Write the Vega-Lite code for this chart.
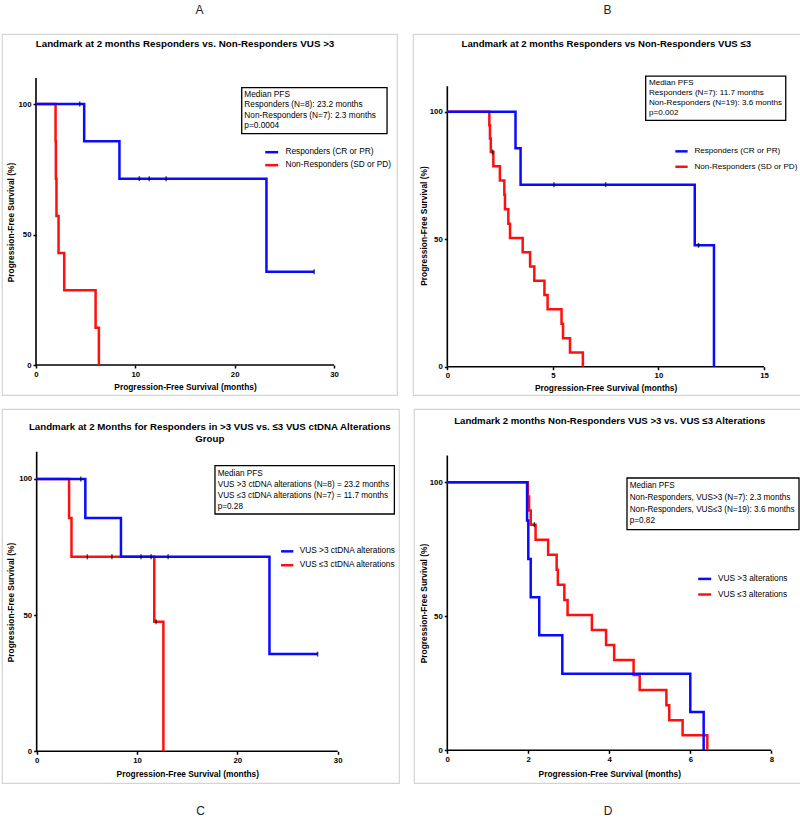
{
"$schema": "https://vega.github.io/schema/vega-lite/v6.json",
"padding": {"left": 1, "top": 3, "right": 0, "bottom": 0},
"config": {
  "font": "Liberation Sans",
  "view": {"stroke": "#d4d4d4", "strokeWidth": 1.2},
  "axis": {"domain": false, "grid": false, "tickSize": 3, "tickWidth": 1.5, "tickColor": "black", "labelFontSize": 7.8, "labelFontWeight": "bold", "labelColor": "black", "labelPadding": 2, "labelFlush": false, "labelOverlap": false, "titleFontSize": 8.4, "titleFontWeight": "bold", "titleColor": "black", "titleBaseline": "middle", "titlePadding": 0},
  "legend": {"symbolType": "stroke", "symbolStrokeWidth": 2.5, "labelFontSize": 8.3, "labelColor": "black", "padding": 0, "labelLimit": 400, "title": null},
  "title": {"fontSize": 12, "fontWeight": "normal", "color": "#222"}
},
"datasets": {
  "A": [
    {"g": "Non-Responders (SD or PD)", "t": 0, "s": 100, "c": 0},
    {"g": "Non-Responders (SD or PD)", "t": 1.97, "s": 85.7, "c": 0},
    {"g": "Non-Responders (SD or PD)", "t": 2.0, "s": 71.4, "c": 0},
    {"g": "Non-Responders (SD or PD)", "t": 2.06, "s": 57.1, "c": 0},
    {"g": "Non-Responders (SD or PD)", "t": 2.27, "s": 42.9, "c": 0},
    {"g": "Non-Responders (SD or PD)", "t": 2.84, "s": 28.6, "c": 0},
    {"g": "Non-Responders (SD or PD)", "t": 6.0, "s": 14.3, "c": 0},
    {"g": "Non-Responders (SD or PD)", "t": 6.33, "s": 0, "c": 0},
    {"g": "Responders (CR or PR)", "t": 0, "s": 100, "c": 0},
    {"g": "Responders (CR or PR)", "t": 4.4, "s": 100, "c": 1},
    {"g": "Responders (CR or PR)", "t": 4.85, "s": 85.7, "c": 0},
    {"g": "Responders (CR or PR)", "t": 8.4, "s": 71.4, "c": 0},
    {"g": "Responders (CR or PR)", "t": 10.4, "s": 71.4, "c": 1},
    {"g": "Responders (CR or PR)", "t": 11.4, "s": 71.4, "c": 1},
    {"g": "Responders (CR or PR)", "t": 13.1, "s": 71.4, "c": 1},
    {"g": "Responders (CR or PR)", "t": 23.2, "s": 35.7, "c": 0},
    {"g": "Responders (CR or PR)", "t": 28.0, "s": 35.7, "c": 1}
  ],
  "B": [
    {"g": "Non-Responders (SD or PD)", "t": 0, "s": 100, "c": 0},
    {"g": "Non-Responders (SD or PD)", "t": 1.99, "s": 94.7, "c": 0},
    {"g": "Non-Responders (SD or PD)", "t": 2.02, "s": 89.5, "c": 0},
    {"g": "Non-Responders (SD or PD)", "t": 2.06, "s": 84.2, "c": 0},
    {"g": "Non-Responders (SD or PD)", "t": 2.15, "s": 84.2, "c": 1},
    {"g": "Non-Responders (SD or PD)", "t": 2.18, "s": 78.6, "c": 0},
    {"g": "Non-Responders (SD or PD)", "t": 2.49, "s": 73.0, "c": 0},
    {"g": "Non-Responders (SD or PD)", "t": 2.70, "s": 67.4, "c": 0},
    {"g": "Non-Responders (SD or PD)", "t": 2.73, "s": 61.8, "c": 0},
    {"g": "Non-Responders (SD or PD)", "t": 2.89, "s": 56.1, "c": 0},
    {"g": "Non-Responders (SD or PD)", "t": 2.97, "s": 50.5, "c": 0},
    {"g": "Non-Responders (SD or PD)", "t": 3.57, "s": 44.9, "c": 0},
    {"g": "Non-Responders (SD or PD)", "t": 3.92, "s": 39.3, "c": 0},
    {"g": "Non-Responders (SD or PD)", "t": 4.12, "s": 33.7, "c": 0},
    {"g": "Non-Responders (SD or PD)", "t": 4.60, "s": 28.1, "c": 0},
    {"g": "Non-Responders (SD or PD)", "t": 4.75, "s": 22.5, "c": 0},
    {"g": "Non-Responders (SD or PD)", "t": 5.41, "s": 16.8, "c": 0},
    {"g": "Non-Responders (SD or PD)", "t": 5.48, "s": 11.2, "c": 0},
    {"g": "Non-Responders (SD or PD)", "t": 5.81, "s": 5.6, "c": 0},
    {"g": "Non-Responders (SD or PD)", "t": 6.42, "s": 0, "c": 0},
    {"g": "Responders (CR or PR)", "t": 0, "s": 100, "c": 0},
    {"g": "Responders (CR or PR)", "t": 3.23, "s": 85.7, "c": 0},
    {"g": "Responders (CR or PR)", "t": 3.47, "s": 71.4, "c": 0},
    {"g": "Responders (CR or PR)", "t": 5.05, "s": 71.4, "c": 1},
    {"g": "Responders (CR or PR)", "t": 7.5, "s": 71.4, "c": 1},
    {"g": "Responders (CR or PR)", "t": 11.72, "s": 47.6, "c": 0},
    {"g": "Responders (CR or PR)", "t": 11.9, "s": 47.6, "c": 1},
    {"g": "Responders (CR or PR)", "t": 12.63, "s": 0, "c": 0}
  ],
  "C": [
    {"g": "VUS ≤3 ctDNA alterations", "t": 0, "s": 100, "c": 0},
    {"g": "VUS ≤3 ctDNA alterations", "t": 3.23, "s": 85.7, "c": 0},
    {"g": "VUS ≤3 ctDNA alterations", "t": 3.47, "s": 71.4, "c": 0},
    {"g": "VUS ≤3 ctDNA alterations", "t": 5.05, "s": 71.4, "c": 1},
    {"g": "VUS ≤3 ctDNA alterations", "t": 7.5, "s": 71.4, "c": 1},
    {"g": "VUS ≤3 ctDNA alterations", "t": 11.72, "s": 47.6, "c": 0},
    {"g": "VUS ≤3 ctDNA alterations", "t": 11.9, "s": 47.6, "c": 1},
    {"g": "VUS ≤3 ctDNA alterations", "t": 12.63, "s": 0, "c": 0},
    {"g": "VUS >3 ctDNA alterations", "t": 0, "s": 100, "c": 0},
    {"g": "VUS >3 ctDNA alterations", "t": 4.4, "s": 100, "c": 1},
    {"g": "VUS >3 ctDNA alterations", "t": 4.85, "s": 85.7, "c": 0},
    {"g": "VUS >3 ctDNA alterations", "t": 8.4, "s": 71.4, "c": 0},
    {"g": "VUS >3 ctDNA alterations", "t": 10.4, "s": 71.4, "c": 1},
    {"g": "VUS >3 ctDNA alterations", "t": 11.4, "s": 71.4, "c": 1},
    {"g": "VUS >3 ctDNA alterations", "t": 13.1, "s": 71.4, "c": 1},
    {"g": "VUS >3 ctDNA alterations", "t": 23.2, "s": 35.7, "c": 0},
    {"g": "VUS >3 ctDNA alterations", "t": 28.0, "s": 35.7, "c": 1}
  ],
  "D": [
    {"g": "VUS ≤3 alterations", "t": 0, "s": 100, "c": 0},
    {"g": "VUS ≤3 alterations", "t": 1.99, "s": 94.7, "c": 0},
    {"g": "VUS ≤3 alterations", "t": 2.02, "s": 89.5, "c": 0},
    {"g": "VUS ≤3 alterations", "t": 2.06, "s": 84.2, "c": 0},
    {"g": "VUS ≤3 alterations", "t": 2.15, "s": 84.2, "c": 1},
    {"g": "VUS ≤3 alterations", "t": 2.18, "s": 78.6, "c": 0},
    {"g": "VUS ≤3 alterations", "t": 2.49, "s": 73.0, "c": 0},
    {"g": "VUS ≤3 alterations", "t": 2.70, "s": 67.4, "c": 0},
    {"g": "VUS ≤3 alterations", "t": 2.73, "s": 61.8, "c": 0},
    {"g": "VUS ≤3 alterations", "t": 2.89, "s": 56.1, "c": 0},
    {"g": "VUS ≤3 alterations", "t": 2.97, "s": 50.5, "c": 0},
    {"g": "VUS ≤3 alterations", "t": 3.57, "s": 44.9, "c": 0},
    {"g": "VUS ≤3 alterations", "t": 3.92, "s": 39.3, "c": 0},
    {"g": "VUS ≤3 alterations", "t": 4.12, "s": 33.7, "c": 0},
    {"g": "VUS ≤3 alterations", "t": 4.60, "s": 28.1, "c": 0},
    {"g": "VUS ≤3 alterations", "t": 4.75, "s": 22.5, "c": 0},
    {"g": "VUS ≤3 alterations", "t": 5.41, "s": 16.8, "c": 0},
    {"g": "VUS ≤3 alterations", "t": 5.48, "s": 11.2, "c": 0},
    {"g": "VUS ≤3 alterations", "t": 5.81, "s": 5.6, "c": 0},
    {"g": "VUS ≤3 alterations", "t": 6.42, "s": 0, "c": 0},
    {"g": "VUS >3 alterations", "t": 0, "s": 100, "c": 0},
    {"g": "VUS >3 alterations", "t": 1.97, "s": 85.7, "c": 0},
    {"g": "VUS >3 alterations", "t": 2.0, "s": 71.4, "c": 0},
    {"g": "VUS >3 alterations", "t": 2.06, "s": 57.1, "c": 0},
    {"g": "VUS >3 alterations", "t": 2.27, "s": 42.9, "c": 0},
    {"g": "VUS >3 alterations", "t": 2.84, "s": 28.6, "c": 0},
    {"g": "VUS >3 alterations", "t": 6.0, "s": 14.3, "c": 0},
    {"g": "VUS >3 alterations", "t": 6.33, "s": 0, "c": 0}
  ]
},
"resolve": {"scale": {"color": "independent"}, "legend": {"color": "independent"}},
"vconcat": [
 {"hconcat": [
  {
   "width": 395, "height": 361,
   "title": {"text": "A", "offset": 17},
   "data": {"name": "A"},
   "resolve": {"axis": {"x": "independent", "y": "independent"}},
   "layer": [
    {"data": {"values": [{}]}, "mark": {"type": "rule", "color": "black", "strokeWidth": 1.6},
     "encoding": {"x": {"datum": 0, "type": "quantitative", "scale": {"domain": [-3.423, 36.342], "nice": false, "zero": false}, "axis": null},
                  "y": {"datum": 0, "type": "quantitative", "scale": {"domain": [-11.494, 126.82], "nice": false, "zero": false}, "axis": null},
                  "y2": {"datum": 110}}},
    {"data": {"values": [{}]}, "mark": {"type": "rule", "color": "black", "strokeWidth": 1.6},
     "encoding": {"x": {"datum": 0, "type": "quantitative", "scale": {"domain": [-3.423, 36.342], "nice": false, "zero": false}, "axis": null},
                  "x2": {"datum": 30},
                  "y": {"datum": 0, "type": "quantitative", "scale": {"domain": [-11.494, 126.82], "nice": false, "zero": false}, "axis": null}}},
    {"mark": {"type": "line", "interpolate": "step-after", "strokeWidth": 2.5},
     "encoding": {
      "x": {"field": "t", "type": "quantitative", "scale": {"domain": [-3.423, 36.342], "nice": false, "zero": false},
            "axis": {"orient": "bottom", "offset": -30, "values": [0, 10, 20, 30], "format": "d", "title": "Progression-Free Survival (months)", "titleX": 183, "titleY": 21.7}},
      "y": {"field": "s", "type": "quantitative", "scale": {"domain": [-11.494, 126.82], "nice": false, "zero": false},
            "axis": {"orient": "left", "offset": -34, "values": [0, 50, 100], "format": "d", "title": "Progression-Free Survival (%)", "titleX": -25.7, "titleY": 188}},
      "color": {"field": "g", "type": "nominal", "scale": {"domain": ["Responders (CR or PR)", "Non-Responders (SD or PD)"], "range": ["#0a0aff", "#ff1010"]},
                "legend": {"orient": "none", "legendX": 261.7, "legendY": 110.2, "rowPadding": -0.9, "symbolSize": 169, "labelOffset": 5.7}}
     }},
    {"transform": [{"filter": "datum.c == 1"}],
     "mark": {"type": "tick", "orient": "vertical", "size": 5, "thickness": 1.5, "color": "black"},
     "encoding": {
      "x": {"field": "t", "type": "quantitative", "scale": {"domain": [-3.423, 36.342], "nice": false, "zero": false},
            "axis": {"orient": "top", "offset": 0, "labels": false, "ticks": false, "title": "Landmark at 2 months Responders vs. Non-Responders VUS >3", "titleFontSize": 9.8, "titleX": 182.5, "titleY": 9.7}},
      "y": {"field": "s", "type": "quantitative", "scale": {"domain": [-11.494, 126.82], "nice": false, "zero": false}, "axis": null}
     }},
    {"data": {"values": [{}]}, "mark": {"type": "rect", "fill": "white", "stroke": "black", "strokeWidth": 1.3},
     "encoding": {"x": {"datum": 20.71, "type": "quantitative", "scale": {"domain": [-3.423, 36.342], "nice": false, "zero": false}, "axis": null}, "x2": {"datum": 35.34},
                  "y": {"datum": 106.25, "type": "quantitative", "scale": {"domain": [-11.494, 126.82], "nice": false, "zero": false}, "axis": null}, "y2": {"datum": 88.62}}},
    {"data": {"values": [{}]}, "mark": {"type": "text", "align": "left", "baseline": "middle", "fontSize": 8.3, "lineHeight": 10.4, "color": "black",
       "text": ["Median PFS", "Responders (N=8): 23.2 months", "Non-Responders (N=7): 2.3 months", "p=0.0004"]},
     "encoding": {"x": {"datum": 20.97, "type": "quantitative", "scale": {"domain": [-3.423, 36.342], "nice": false, "zero": false}, "axis": null},
                  "y": {"datum": 103.45, "type": "quantitative", "scale": {"domain": [-11.494, 126.82], "nice": false, "zero": false}, "axis": null}}}
   ]
  },
  {
   "width": 389, "height": 361,
   "title": {"text": "B", "offset": 17},
   "data": {"name": "B"},
   "resolve": {"axis": {"x": "independent", "y": "independent"}},
   "layer": [
    {"data": {"values": [{}]}, "mark": {"type": "rule", "color": "black", "strokeWidth": 1.6},
     "encoding": {"x": {"datum": 0, "type": "quantitative", "scale": {"domain": [-1.626, 16.80], "nice": false, "zero": false}, "axis": null},
                  "y": {"datum": 0, "type": "quantitative", "scale": {"domain": [-11.1, 130.5], "nice": false, "zero": false}, "axis": null},
                  "y2": {"datum": 110}}},
    {"data": {"values": [{}]}, "mark": {"type": "rule", "color": "black", "strokeWidth": 1.6},
     "encoding": {"x": {"datum": 0, "type": "quantitative", "scale": {"domain": [-1.626, 16.80], "nice": false, "zero": false}, "axis": null},
                  "x2": {"datum": 15},
                  "y": {"datum": 0, "type": "quantitative", "scale": {"domain": [-11.1, 130.5], "nice": false, "zero": false}, "axis": null}}},
    {"mark": {"type": "line", "interpolate": "step-after", "strokeWidth": 2.5},
     "encoding": {
      "x": {"field": "t", "type": "quantitative", "scale": {"domain": [-1.626, 16.80], "nice": false, "zero": false},
            "axis": {"orient": "bottom", "offset": -28.3, "values": [0, 5, 10, 15], "format": "d", "title": "Progression-Free Survival (months)", "titleX": 192.6, "titleY": 21}},
      "y": {"field": "s", "type": "quantitative", "scale": {"domain": [-11.1, 130.5], "nice": false, "zero": false},
            "axis": {"orient": "left", "offset": -34.3, "values": [0, 50, 100], "format": "d", "title": "Progression-Free Survival (%)", "titleX": -24.3, "titleY": 191.5}},
      "color": {"field": "g", "type": "nominal", "scale": {"domain": ["Responders (CR or PR)", "Non-Responders (SD or PD)"], "range": ["#0a0aff", "#ff1010"]},
                "legend": {"orient": "none", "legendX": 261, "legendY": 109.85, "rowPadding": 2.4, "symbolSize": 151, "labelOffset": 5.4, "labelFontSize": 8.1}}
     }},
    {"transform": [{"filter": "datum.c == 1"}],
     "mark": {"type": "tick", "orient": "vertical", "size": 5, "thickness": 1.5, "color": "black"},
     "encoding": {
      "x": {"field": "t", "type": "quantitative", "scale": {"domain": [-1.626, 16.80], "nice": false, "zero": false},
            "axis": {"orient": "top", "offset": 0, "labels": false, "ticks": false, "title": "Landmark at 2 months Responders vs Non-Responders VUS ≤3", "titleFontSize": 9.6, "titleX": 192.8, "titleY": 9.7}},
      "y": {"field": "s", "type": "quantitative", "scale": {"domain": [-11.1, 130.5], "nice": false, "zero": false}, "axis": null}
     }},
    {"data": {"values": [{}]}, "mark": {"type": "rect", "fill": "white", "stroke": "black", "strokeWidth": 1.3},
     "encoding": {"x": {"datum": 9.396, "type": "quantitative", "scale": {"domain": [-1.626, 16.80], "nice": false, "zero": false}, "axis": null}, "x2": {"datum": 16.03},
                  "y": {"datum": 114.0, "type": "quantitative", "scale": {"domain": [-11.1, 130.5], "nice": false, "zero": false}, "axis": null}, "y2": {"datum": 96.63}}},
    {"data": {"values": [{}]}, "mark": {"type": "text", "align": "left", "baseline": "middle", "fontSize": 8.1, "lineHeight": 10, "color": "black",
       "text": ["Median PFS", "Responders (N=7): 11.7 months", "Non-Responders (N=19): 3.6 months", "p=0.002"]},
     "encoding": {"x": {"datum": 9.553, "type": "quantitative", "scale": {"domain": [-1.626, 16.80], "nice": false, "zero": false}, "axis": null},
                  "y": {"datum": 111.14, "type": "quantitative", "scale": {"domain": [-11.1, 130.5], "nice": false, "zero": false}, "axis": null}}}
   ]
  }
 ], "spacing": 14, "resolve": {"scale": {"color": "independent"}, "legend": {"color": "independent"}}},
 {"hconcat": [
  {
   "width": 397, "height": 374,
   "title": {"text": "C", "orient": "bottom", "offset": 23},
   "data": {"name": "C"},
   "resolve": {"axis": {"x": "independent", "y": "independent"}},
   "layer": [
    {"data": {"values": [{}]}, "mark": {"type": "rule", "color": "black", "strokeWidth": 1.6},
     "encoding": {"x": {"datum": 0, "type": "quantitative", "scale": {"domain": [-3.455, 36.11], "nice": false, "zero": false}, "axis": null},
                  "y": {"datum": 0, "type": "quantitative", "scale": {"domain": [-11.64, 125.7], "nice": false, "zero": false}, "axis": null},
                  "y2": {"datum": 110}}},
    {"data": {"values": [{}]}, "mark": {"type": "rule", "color": "black", "strokeWidth": 1.6},
     "encoding": {"x": {"datum": 0, "type": "quantitative", "scale": {"domain": [-3.455, 36.11], "nice": false, "zero": false}, "axis": null},
                  "x2": {"datum": 30},
                  "y": {"datum": 0, "type": "quantitative", "scale": {"domain": [-11.64, 125.7], "nice": false, "zero": false}, "axis": null}}},
    {"mark": {"type": "line", "interpolate": "step-after", "strokeWidth": 2.5},
     "encoding": {
      "x": {"field": "t", "type": "quantitative", "scale": {"domain": [-3.455, 36.11], "nice": false, "zero": false},
            "axis": {"orient": "bottom", "offset": -31.7, "values": [0, 10, 20, 30], "format": "d", "title": "Progression-Free Survival (months)", "titleX": 185.3, "titleY": 22.4}},
      "y": {"field": "s", "type": "quantitative", "scale": {"domain": [-11.64, 125.7], "nice": false, "zero": false},
            "axis": {"orient": "left", "offset": -34.67, "values": [0, 50, 100], "format": "d", "title": "Progression-Free Survival (%)", "titleX": -26.4, "titleY": 193}},
      "color": {"field": "g", "type": "nominal", "scale": {"domain": ["VUS >3 ctDNA alterations", "VUS ≤3 ctDNA alterations"], "range": ["#0a0aff", "#ff1010"]},
                "legend": {"orient": "none", "legendX": 277.7, "legendY": 134.85, "rowPadding": 0.9, "symbolSize": 151, "labelOffset": 5}}
     }},
    {"transform": [{"filter": "datum.c == 1"}],
     "mark": {"type": "tick", "orient": "vertical", "size": 5, "thickness": 1.5, "color": "black"},
     "encoding": {
      "x": {"field": "t", "type": "quantitative", "scale": {"domain": [-3.455, 36.11], "nice": false, "zero": false},
            "axis": {"orient": "top", "offset": 0, "labels": false, "ticks": false, "title": ["Landmark at 2 Months for Responders in >3 VUS vs. ≤3 VUS ctDNA Alterations", "Group"], "titleFontSize": 9.7, "titleLineHeight": 12.6, "titleX": 207.3, "titleY": 17}},
      "y": {"field": "s", "type": "quantitative", "scale": {"domain": [-11.64, 125.7], "nice": false, "zero": false}, "axis": null}
     }},
    {"data": {"values": [{}]}, "mark": {"type": "rect", "fill": "white", "stroke": "black", "strokeWidth": 1.3},
     "encoding": {"x": {"datum": 17.77, "type": "quantitative", "scale": {"domain": [-3.455, 36.11], "nice": false, "zero": false}, "axis": null}, "x2": {"datum": 35.65},
                  "y": {"datum": 104.88, "type": "quantitative", "scale": {"domain": [-11.64, 125.7], "nice": false, "zero": false}, "axis": null}, "y2": {"datum": 87.15}}},
    {"data": {"values": [{}]}, "mark": {"type": "text", "align": "left", "baseline": "middle", "fontSize": 8.2, "lineHeight": 11, "color": "black",
       "text": ["Median PFS", "VUS >3 ctDNA alterations (N=8) = 23.2 months", "VUS ≤3 ctDNA alterations (N=7) = 11.7 months", "p=0.28"]},
     "encoding": {"x": {"datum": 18.04, "type": "quantitative", "scale": {"domain": [-3.455, 36.11], "nice": false, "zero": false}, "axis": null},
                  "y": {"datum": 101.95, "type": "quantitative", "scale": {"domain": [-11.64, 125.7], "nice": false, "zero": false}, "axis": null}}}
   ]
  },
  {
   "width": 388, "height": 374,
   "title": {"text": "D", "orient": "bottom", "offset": 23},
   "data": {"name": "D"},
   "resolve": {"axis": {"x": "independent", "y": "independent"}},
   "layer": [
    {"data": {"values": [{}]}, "mark": {"type": "rule", "color": "black", "strokeWidth": 1.6},
     "encoding": {"x": {"datum": 0, "type": "quantitative", "scale": {"domain": [-0.822, 8.758], "nice": false, "zero": false}, "axis": null},
                  "y": {"datum": 0, "type": "quantitative", "scale": {"domain": [-12.2, 127.35], "nice": false, "zero": false}, "axis": null},
                  "y2": {"datum": 110}}},
    {"data": {"values": [{}]}, "mark": {"type": "rule", "color": "black", "strokeWidth": 1.6},
     "encoding": {"x": {"datum": 0, "type": "quantitative", "scale": {"domain": [-0.822, 8.758], "nice": false, "zero": false}, "axis": null},
                  "x2": {"datum": 8},
                  "y": {"datum": 0, "type": "quantitative", "scale": {"domain": [-12.2, 127.35], "nice": false, "zero": false}, "axis": null}}},
    {"mark": {"type": "line", "interpolate": "step-after", "strokeWidth": 2.5},
     "encoding": {
      "x": {"field": "t", "type": "quantitative", "scale": {"domain": [-0.822, 8.758], "nice": false, "zero": false},
            "axis": {"orient": "bottom", "offset": -32.7, "values": [0, 2, 4, 6, 8], "format": "d", "title": "Progression-Free Survival (months)", "titleX": 195.3, "titleY": 23.4}},
      "y": {"field": "s", "type": "quantitative", "scale": {"domain": [-12.2, 127.35], "nice": false, "zero": false},
            "axis": {"orient": "left", "offset": -33.3, "values": [0, 50, 100], "format": "d", "title": "Progression-Free Survival (%)", "titleX": -24.3, "titleY": 194}},
      "color": {"field": "g", "type": "nominal", "scale": {"domain": ["VUS >3 alterations", "VUS ≤3 alterations"], "range": ["#0a0aff", "#ff1010"]},
                "legend": {"orient": "none", "legendX": 282.7, "legendY": 161.9, "rowPadding": 2.6, "symbolSize": 169, "labelOffset": 5.3}}
     }},
    {"transform": [{"filter": "datum.c == 1"}],
     "mark": {"type": "tick", "orient": "vertical", "size": 5, "thickness": 1.5, "color": "black"},
     "encoding": {
      "x": {"field": "t", "type": "quantitative", "scale": {"domain": [-0.822, 8.758], "nice": false, "zero": false},
            "axis": {"orient": "top", "offset": 0, "labels": false, "ticks": false, "title": "Landmark 2 months Non-Responders VUS >3 vs. VUS ≤3 Alterations", "titleFontSize": 9.6, "titleX": 195.3, "titleY": 11.3}},
      "y": {"field": "s", "type": "quantitative", "scale": {"domain": [-12.2, 127.35], "nice": false, "zero": false}, "axis": null}
     }},
    {"data": {"values": [{}]}, "mark": {"type": "rect", "fill": "white", "stroke": "black", "strokeWidth": 1.3},
     "encoding": {"x": {"datum": 4.437, "type": "quantitative", "scale": {"domain": [-0.822, 8.758], "nice": false, "zero": false}, "axis": null}, "x2": {"datum": 8.684},
                  "y": {"datum": 101.6, "type": "quantitative", "scale": {"domain": [-12.2, 127.35], "nice": false, "zero": false}, "axis": null}, "y2": {"datum": 82.31}}},
    {"data": {"values": [{}]}, "mark": {"type": "text", "align": "left", "baseline": "middle", "fontSize": 8.2, "lineHeight": 11.7, "color": "black",
       "text": ["Median PFS", "Non-Responders, VUS>3 (N=7): 2.3 months", "Non-Responders, VUS≤3 (N=19): 3.6 months", "p=0.82"]},
     "encoding": {"x": {"datum": 4.504, "type": "quantitative", "scale": {"domain": [-0.822, 8.758], "nice": false, "zero": false}, "axis": null},
                  "y": {"datum": 98.51, "type": "quantitative", "scale": {"domain": [-12.2, 127.35], "nice": false, "zero": false}, "axis": null}}}
   ]
  }
 ], "spacing": 13, "resolve": {"scale": {"color": "independent"}, "legend": {"color": "independent"}}}
],
"spacing": 12
}
